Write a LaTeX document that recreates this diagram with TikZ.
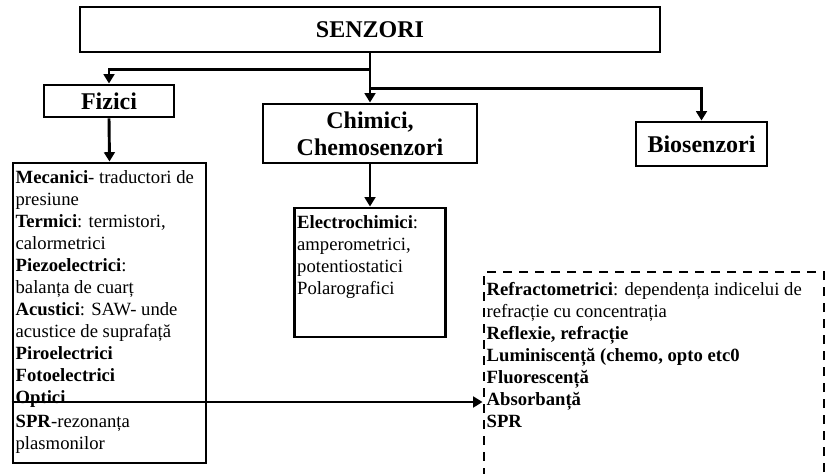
\documentclass[tikz,border=0pt]{standalone}
\usepackage{fontspec}
\setmainfont{Liberation Serif}
\usetikzlibrary{positioning,arrows.meta}

\begin{document}
\begin{tikzpicture}[
x=0.75pt, y=-0.75pt,
line width=2.2pt,
every node/.style={inner sep=2pt},
box/.style={draw, line width=2.2pt, align=center, font=\fontsize{18}{20}\selectfont\bfseries},
listtext/.style={align=flush left, anchor=north west, font=\fontsize{14}{16.5}\selectfont},
dashbox/.style={draw, line width=2.2pt, dash pattern=on 6.75pt off 5.25pt},
arr/.style={-{Triangle[width=8pt,length=7pt]}, line width=2.2pt}
]
\clip (0,0) rectangle (827,474);
% Nodes
\node[box, minimum width=435pt, minimum height=33.75pt] (senzori) at (370,29.5) {SENZORI};
\node[box, minimum width=97.5pt, minimum height=24pt] (fizici) at (109,101) {Fizici};
\node[box, minimum width=160.5pt, minimum height=44.25pt] (chimici) at (370,133.5) {Chimici,\\Chemosenzori};
\node[box, minimum width=98.25pt, minimum height=33pt] (bio) at (701.5,144) {Biosenzori};

\node[draw, minimum width=144.75pt, minimum height=225pt] (lst) at (109.5,313) {};
\node[listtext] (lsttxt) at ([yshift=-3.5pt]lst.north west) {%
\textbf{Mecanici}- traductori de\\ presiune\\
\textbf{Termici}: termistori,\\ calormetrici\\
\textbf{Piezoelectrici}:\\ balanța de cuarț\\
\textbf{Acustici}: SAW- unde\\ acustice de suprafață\\
\textbf{Piroelectrici}\\ \textbf{Fotoelectrici}\\ \textbf{Optici}\\[1.5pt]
\textbf{SPR}-rezonanța\\ plasmonilor};

\node[draw, minimum width=113.25pt, minimum height=96.75pt] (elbox) at (370,272.5) {};
\node[listtext] (eltxt) at ([yshift=-3.5pt]elbox.north west) {%
\textbf{Electrochimici}:\\ amperometrici,\\ potentiostatici\\ Polarografici};

\node[dashbox, minimum width=255pt, minimum height=171pt] (optbox) at (654,386) {};
\node[listtext] (opttxt) at ([yshift=-6pt]optbox.north west) {%
\textbf{Refractometrici}: dependența indicelui de\\ refracție cu concentrația\\
\textbf{Reflexie, refracție}\\ \textbf{Luminiscență (chemo, opto etc0}\\
\textbf{Fluorescență}\\ \textbf{Absorbanță}\\ \textbf{SPR}};

\coordinate (optpt) at (60,402);

% Arrows
\draw[arr] (senzori.south) -- (chimici.north);
\draw[arr] ([yshift=-12pt]senzori.south) -| (fizici.north);
\draw[arr] ([yshift=-26.25pt]senzori.south) -| (bio.north);
\draw[arr] (fizici.south) -- (lst.north);
\draw[arr] (chimici.south) -- (elbox.north);
\draw[line width=1pt] (lst.west |- optpt) -- (lst.east |- optpt);
\draw[arr] (optpt) -- (optbox.west |- optpt);
\end{tikzpicture}
\end{document}
